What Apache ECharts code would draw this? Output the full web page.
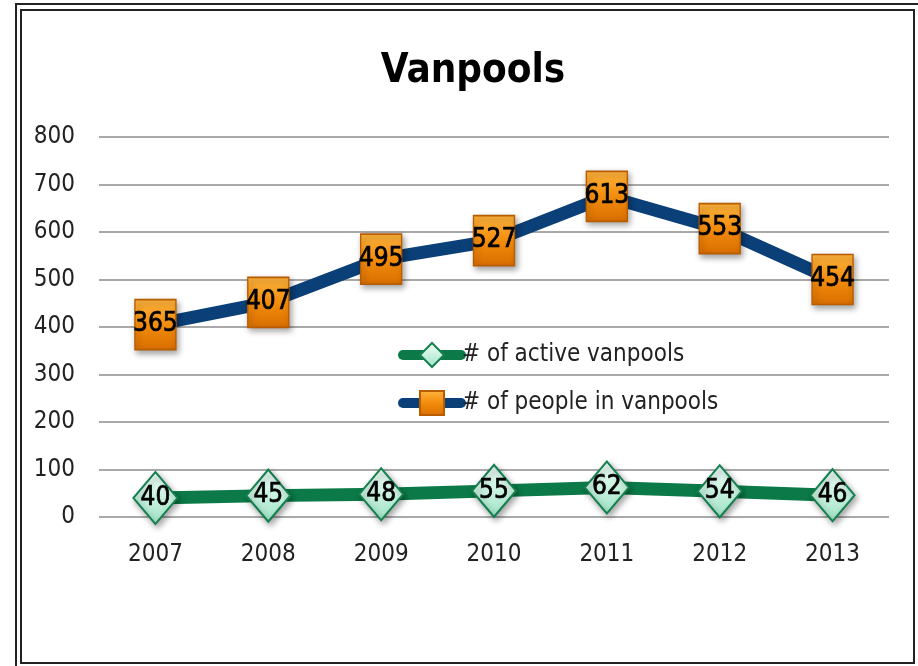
<!DOCTYPE html>
<html>
<head>
<meta charset="utf-8">
<script src="https://cdn.jsdelivr.net/npm/echarts@6/dist/echarts.min.js"></script>
<style>
  html, body { margin: 0; padding: 0; background: #fff; }
  #chart { width: 918px; height: 666px; }
</style>
</head>
<body>
<div id="chart"></div>
<script>
// data
var years = ['2007', '2008', '2009', '2010', '2011', '2012', '2013'];
var activeVanpools = [40, 45, 48, 55, 62, 54, 46];
var peopleInVanpools = [365, 407, 495, 527, 613, 553, 454];
var yTicks = [0, 100, 200, 300, 400, 500, 600, 700, 800];

var font = "'DejaVu Sans Condensed', 'DejaVu Sans', sans-serif";

var chart = echarts.init(document.getElementById('chart'));

// label drawn inside each marker, slightly thickened
var markerLabel = {
    show: true,
    position: 'inside',
    formatter: '{c}',
    fontFamily: font,
    fontSize: 26,
    color: '#000',
    textBorderColor: '#000',
    textBorderWidth: 0.7
};

var option = {
    backgroundColor: '#fff',
    animation: false,
    graphic: [
        { type: 'rect', shape: { x: 16, y: 4, width: 940, height: 700 },
          style: { fill: 'none', stroke: '#222', lineWidth: 2 } },
        { type: 'rect', shape: { x: 21, y: 10, width: 893, height: 653 },
          style: { fill: 'none', stroke: '#222', lineWidth: 2 } }
    ],
    title: {
        text: 'Vanpools',
        left: 468,
        top: 47,
        textAlign: 'center',
        textStyle: { fontFamily: font, fontSize: 40, fontWeight: 'bold', color: '#000' }
    },
    legend: {
        orient: 'vertical',
        left: 393,
        top: 337,
        itemWidth: 58,
        itemHeight: 30,
        itemGap: 22,
        lineStyle: { width: 10, cap: 'round' },
        data: ['# of active vanpools', '# of people in vanpools'],
        textStyle: { fontFamily: font, fontSize: 24, color: '#222', padding: [0, 0, 0, -4] }
    },
    grid: { left: 99, right: 29, top: 137, bottom: 149 },
    xAxis: {
        type: 'category',
        data: years,
        boundaryGap: true,
        axisLine: { show: false },
        axisTick: { show: false },
        axisLabel: { fontFamily: font, fontSize: 24, color: '#222', margin: 26 }
    },
    yAxis: {
        type: 'value',
        min: yTicks[0],
        max: yTicks[yTicks.length - 1],
        interval: 100,
        axisLine: { show: false },
        axisTick: { show: false },
        axisLabel: { fontFamily: font, fontSize: 24, color: '#222', margin: 24 },
        splitLine: { lineStyle: { color: '#8c8c8c', width: 1.5 } }
    },
    series: [
        {
            name: '# of active vanpools',
            type: 'line',
            stack: 'total',
            data: activeVanpools,
            symbol: 'diamond',
            symbolSize: [44, 52],
            z: 3,
            lineStyle: { color: '#0B7A48', width: 13 },
            itemStyle: {
                color: new echarts.graphic.LinearGradient(0, 0, 0, 1, [
                    { offset: 0, color: '#F2FFF9' },
                    { offset: 1, color: '#9FE3C6' }
                ]),
                borderColor: '#13804E',
                borderWidth: 2,
                shadowBlur: 6,
                shadowOffsetX: 2,
                shadowOffsetY: 3,
                shadowColor: 'rgba(0,0,0,0.35)'
            },
            label: markerLabel
        },
        {
            name: '# of people in vanpools',
            type: 'line',
            stack: 'total',
            data: peopleInVanpools,
            symbol: 'rect',
            symbolSize: [41, 50],
            z: 3,
            lineStyle: { color: '#0A3F78', width: 13 },
            itemStyle: {
                color: new echarts.graphic.LinearGradient(0, 0, 0, 1, [
                    { offset: 0, color: '#FFB640' },
                    { offset: 0.5, color: '#F28C0C' },
                    { offset: 1, color: '#D96E00' }
                ]),
                borderColor: '#B85C00',
                borderWidth: 1.5,
                shadowBlur: 6,
                shadowOffsetX: 2,
                shadowOffsetY: 3,
                shadowColor: 'rgba(0,0,0,0.35)'
            },
            label: markerLabel
        }
    ]
};

chart.setOption(option);
</script>
</body>
</html>
